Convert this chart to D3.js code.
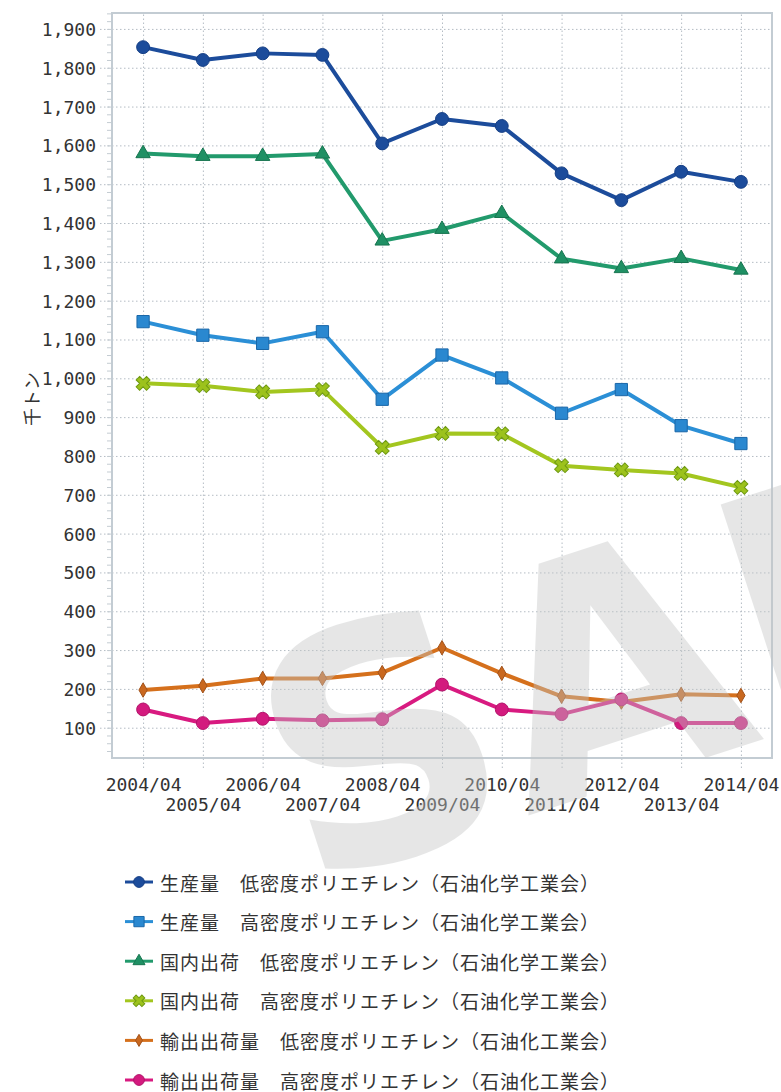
<!DOCTYPE html>
<html>
<head>
<meta charset="utf-8">
<script src="https://cdn.jsdelivr.net/npm/d3@7"></script>
<style>
  body { margin: 0; background: #fff; }
  .tick text { font-family: 'DejaVu Sans Mono', monospace; font-size: 18px; fill: #333; }
  .grid .tick line { stroke: #b4bcc4; stroke-dasharray: 1.5,2.5; }
  .grid .domain { display: none; }
  .legend text { font-family: 'Noto Sans CJK JP', sans-serif; font-size: 19px; letter-spacing: 1px; fill: #333; }
</style>
</head>
<body>
<svg id="chart" width="781" height="1092"></svg>
<script>

var years = [ '2004/04', '2005/04', '2006/04', '2007/04', '2008/04', '2009/04',
  '2010/04', '2011/04', '2012/04', '2013/04', '2014/04' ];

var seriesNames = [
  '生産量　低密度ポリエチレン（石油化学工業会）',
  '生産量　高密度ポリエチレン（石油化学工業会）',
  '国内出荷　低密度ポリエチレン（石油化学工業会）',
  '国内出荷　高密度ポリエチレン（石油化学工業会）',
  '輸出出荷量　低密度ポリエチレン（石油化工業会）',
  '輸出出荷量　高密度ポリエチレン（石油化工業会）'
];

var prodLow = [ 1853, 1820, 1837, 1833, 1605, 1668, 1650, 1528, 1459, 1532, 1506 ];
var prodHigh = [ 1146, 1111, 1090, 1120, 946, 1060, 1001, 910, 971, 878, 832 ];
var domLow = [ 1579, 1572, 1572, 1578, 1354, 1384, 1425, 1308, 1283, 1309, 1279 ];
var domHigh = [ 987, 981, 965, 971, 822, 858, 857, 775, 764, 755, 719 ];
var expLow = [ 197, 208, 227, 227, 242, 306, 240, 181, 166, 186, 183 ];
var expHigh = [ 147, 112, 123, 119, 122, 211, 147, 135, 173, 112, 112 ];

var yTicks = [ 100, 200, 300, 400, 500, 600, 700, 800, 900, 1000,
  1100, 1200, 1300, 1400, 1500, 1600, 1700, 1800, 1900 ];

var svg = d3.select( '#chart' ),
  plot = { left: 112, right: 772, top: 13, bottom: 758 };

var series = [
  { name: seriesNames[ 0 ], values: prodLow, color: '#1c4c9b', fill: '#1c4c9b', stroke: '#163f85', symbol: d3.symbolCircle, size: 130 },
  { name: seriesNames[ 1 ], values: prodHigh, color: '#2b8fd6', fill: '#2a88d0', stroke: '#1a67a8', symbol: d3.symbolSquare, size: 150 },
  { name: seriesNames[ 2 ], values: domLow, color: '#229a6c', fill: '#1f9064', stroke: '#17744f', symbol: d3.symbolTriangle, size: 90 },
  { name: seriesNames[ 3 ], values: domHigh, color: '#a3c61f', fill: '#9cc21c', stroke: '#6f9a12', symbol: d3.symbolCross, size: 120, rotate: 45 },
  { name: seriesNames[ 4 ], values: expLow, color: '#d5701c', fill: '#c9681f', stroke: '#a2521a', symbol: d3.symbolDiamond, size: 60 },
  { name: seriesNames[ 5 ], values: expHigh, color: '#d81a80', fill: '#d31a7e', stroke: '#b3136a', symbol: d3.symbolCircle, size: 130 }
];

var x = d3.scalePoint()
  .domain( years )
  .range( [ plot.left, plot.right ] )
  .padding( 0.52 );

var y = d3.scaleLinear()
  .domain( [ 22, 1941 ] )
  .range( [ plot.bottom, plot.top ] );

svg.append( 'rect' )
  .attr( 'width', 781 )
  .attr( 'height', 1092 )
  .style( 'fill', '#fff' );

// horizontal grid + labels
var yAxis = svg.append( 'g' )
  .attr( 'class', 'grid' )
  .attr( 'transform', 'translate(100,0)' )
  .call( d3.axisLeft( y )
    .tickValues( yTicks )
    .tickFormat( d3.format( ',' ) )
    .tickSize( -( plot.right - 100 ) )
    .tickPadding( 4 ) );

yAxis.selectAll( 'text' ).attr( 'dy', '0.36em' );

// minor ticks every 20
svg.append( 'g' )
  .attr( 'transform', 'translate(' + plot.left + ',0)' )
  .call( d3.axisLeft( y ).tickValues( d3.range( 40, 1941, 20 ) ).tickSize( 5 ).tickFormat( '' ) )
  .call( g => g.select( '.domain' ).remove() )
  .call( g => g.selectAll( 'line' ).style( 'stroke', '#c4ccd2' ) );

// vertical grid + two-row labels
var xAxis = svg.append( 'g' )
  .attr( 'class', 'grid' )
  .attr( 'transform', 'translate(0,768)' )
  .call( d3.axisBottom( x ).tickSize( -( 768 - plot.top ) ).tickPadding( 10 ) );

xAxis.selectAll( 'text' )
  .attr( 'y', ( d, i ) => i % 2 ? 30 : 10 );

svg.append( 'rect' )
  .attr( 'x', plot.left )
  .attr( 'y', plot.top )
  .attr( 'width', plot.right - plot.left )
  .attr( 'height', plot.bottom - plot.top )
  .style( 'fill', 'none' )
  .style( 'stroke', '#c3ccd3' )
  .style( 'stroke-width', 2 );

svg.append( 'text' )
  .attr( 'transform', 'translate(31,399) rotate(-90)' )
  .attr( 'text-anchor', 'middle' )
  .attr( 'dominant-baseline', 'central' )
  .style( 'font-family', "'Noto Sans CJK JP', sans-serif" )
  .style( 'font-size', '18px' )
  .style( 'fill', '#333' )
  .text( '千トン' );

/* Lines */

var line = d3.line()
  .x( ( d, i ) => x( years[ i ] ) )
  .y( d => y( d ) );

var groups = svg.selectAll( '.series' )
  .data( series )
  .enter().append( 'g' )
    .attr( 'class', 'series' );

groups.append( 'path' )
  .attr( 'd', d => line( d.values ) )
  .style( 'fill', 'none' )
  .style( 'stroke', d => d.color )
  .style( 'stroke-width', 4 )
  .style( 'stroke-linejoin', 'round' );

groups.each( function( s ) {
  d3.select( this ).selectAll( '.marker' )
    .data( s.values )
    .enter().append( 'path' )
      .attr( 'class', 'marker' )
      .attr( 'd', d3.symbol( s.symbol, s.size ) )
      .attr( 'transform', ( d, i ) => 'translate(' + x( years[ i ] ) + ',' + y( d ) + ')' + ( s.rotate ? ' rotate(' + s.rotate + ')' : '' ) )
      .style( 'fill', s.fill )
      .style( 'stroke', s.stroke )
      .style( 'stroke-width', 1 );
} );

/* Legend */

var legend = svg.append( 'g' )
  .attr( 'class', 'legend' );

var items = legend.selectAll( 'g' )
  .data( series )
  .enter().append( 'g' )
    .attr( 'transform', ( d, i ) => 'translate(125,' + ( 882 + i * 39.6 ) + ')' );

items.append( 'line' )
  .attr( 'x1', 0 )
  .attr( 'x2', 28 )
  .style( 'stroke', d => d.color )
  .style( 'stroke-width', 3 );

items.append( 'path' )
  .attr( 'd', d => d3.symbol( d.symbol, d.size * 0.7 )() )
  .attr( 'transform', d => 'translate(14,0)' + ( d.rotate ? ' rotate(' + d.rotate + ')' : '' ) )
  .style( 'fill', d => d.fill )
  .style( 'stroke', d => d.stroke )
  .style( 'stroke-width', 1 );

items.append( 'text' )
  .attr( 'x', 35 )
  .attr( 'dominant-baseline', 'central' )
  .text( d => d.name );

/* Watermark */

svg.append( 'text' )
  .attr( 'transform', 'translate(305,888) rotate(-18)' )
  .style( 'font-family', "'DejaVu Sans', sans-serif" )
  .style( 'font-weight', 'bold' )
  .style( 'font-size', '324px' )
  .style( 'fill', '#c4c6c6' )
  .style( 'opacity', 0.42 )
  .text( 'SAMPLE' );

</script>
</body>
</html>
